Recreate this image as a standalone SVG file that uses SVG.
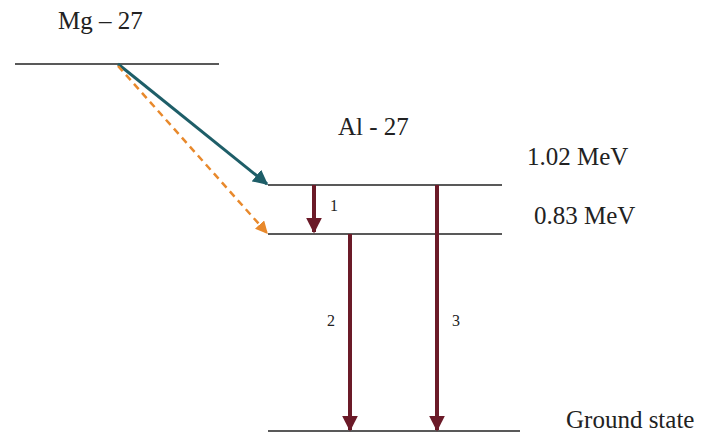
<svg xmlns="http://www.w3.org/2000/svg" width="721" height="434" viewBox="0 0 721 434">
<style>
.lvl{stroke:#222;stroke-width:1.3}
text{font-family:"Liberation Serif","Times New Roman","DejaVu Serif",serif;fill:#222}
.big{font-size:25px}
.sm{font-size:16px}
.gam{stroke:#6b1a28;stroke-width:4;fill:none}
</style>
<defs>
<marker id="ah" viewBox="0 0 10 10" refX="9" refY="5" markerWidth="4" markerHeight="4" orient="auto" markerUnits="strokeWidth"><path d="M0,0L10,5L0,10z" fill="#6b1a28"/></marker>
<marker id="at" viewBox="0 0 10 10" refX="9" refY="5" markerWidth="5" markerHeight="5" orient="auto" markerUnits="strokeWidth"><path d="M0,0L10,5L0,10z" fill="#1e5e68"/></marker>
<marker id="ao" viewBox="0 0 10 10" refX="9" refY="5" markerWidth="5" markerHeight="5" orient="auto" markerUnits="strokeWidth"><path d="M0,0L10,5L0,10z" fill="#e8892c"/></marker>
</defs>
<g id="mg27"><line class="lvl" x1="15" y1="64" x2="219" y2="64"/><text class="big" x="58" y="29">Mg – 27</text></g>
<g id="al102"><line class="lvl" x1="268" y1="185" x2="502" y2="185"/><text class="big" x="527" y="165">1.02 MeV</text></g>
<g id="al083"><line class="lvl" x1="268" y1="234" x2="502" y2="234"/><text class="big" x="534" y="224">0.83 MeV</text></g>
<g id="ground"><line class="lvl" x1="268" y1="431" x2="520" y2="431"/><text class="big" x="566" y="428">Ground state</text></g>
<g id="al27label"><text class="big" x="338" y="135">Al - 27</text></g>
<g id="connectors">
<line x1="118" y1="64" x2="267" y2="184" stroke="#1e5e68" stroke-width="3" marker-end="url(#at)"/>
<line x1="118" y1="66" x2="267" y2="233" stroke="#e8892c" stroke-width="2.5" stroke-dasharray="7,5" marker-end="url(#ao)"/>
<line class="gam" x1="314" y1="185" x2="314" y2="232" marker-end="url(#ah)"/>
<line class="gam" x1="350" y1="234" x2="350" y2="430" marker-end="url(#ah)"/>
<line class="gam" x1="437" y1="185" x2="437" y2="430" marker-end="url(#ah)"/>
<text class="sm" x="330" y="211">1</text>
<text class="sm" x="327" y="326">2</text>
<text class="sm" x="452" y="326">3</text>
</g>
</svg>
